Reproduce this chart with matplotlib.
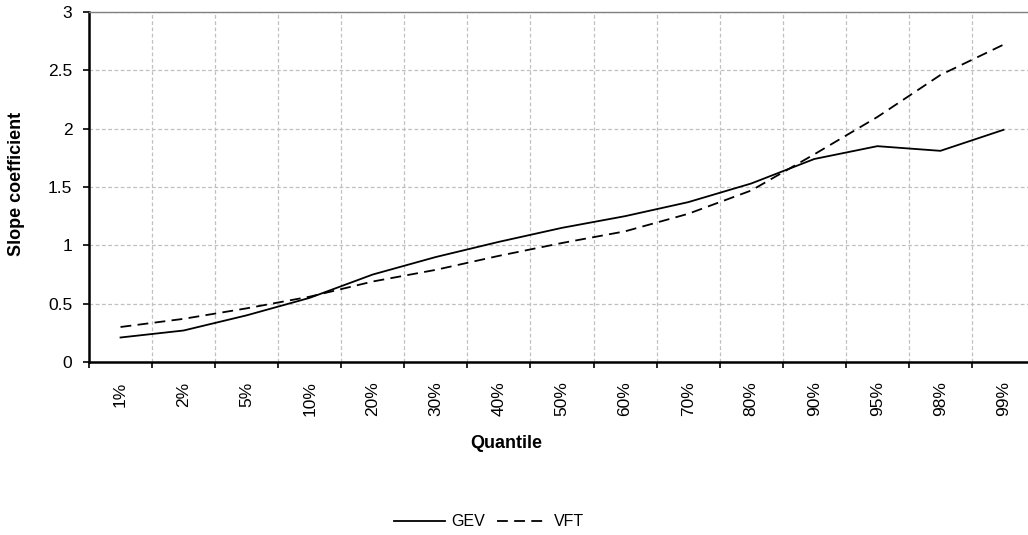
import matplotlib.pyplot as plt
import numpy as np

plt.rcParams['font.family'] = ['Liberation Sans', 'DejaVu Sans']

# ── data ─────────────────────────────────────────────────────────────────────
quantiles = ["1%", "2%", "5%", "10%", "20%", "30%", "40%", "50%",
             "60%", "70%", "80%", "90%", "95%", "98%", "99%"]
gev = [0.21, 0.27, 0.40, 0.55, 0.75, 0.90, 1.03, 1.15,
       1.25, 1.37, 1.53, 1.74, 1.85, 1.81, 1.99]
vft = [0.30, 0.37, 0.46, 0.56, 0.69, 0.79, 0.91, 1.02,
       1.12, 1.27, 1.47, 1.78, 2.10, 2.46, 2.72]

W, H = 1028, 535
fig = plt.figure(figsize=(W / 100, H / 100), dpi=100)
left, right, top, bottom = 89, 1035, 12, 362
ax = fig.add_axes([left / W, 1 - bottom / H, (right - left) / W, (bottom - top) / H])

x = np.arange(len(quantiles))
ax.plot(x, gev, color="black", lw=1.3, label="GEV")
ax.plot(x, vft, color="black", lw=1.3, dashes=(6, 3.5), label="VFT")

ax.set_xlim(-0.5, len(quantiles) - 0.5)
ax.set_ylim(0, 3)
ax.set_yticks(np.arange(0, 3.01, 0.5))
ax.set_yticklabels(["0", "0.5", "1", "1.5", "2", "2.5", "3"])

ax.set_xticks(x)
ax.set_xticklabels(quantiles, rotation=90)
ax.set_xticks(np.arange(-0.5, len(quantiles), 1.0), minor=True)
ax.tick_params(axis="x", which="major", length=0, pad=14, labelsize=12.5)
ax.tick_params(axis="x", which="minor", length=4, width=1.2, direction="out")
ax.tick_params(axis="y", length=4, width=1.2, direction="out", pad=8, labelsize=12.5)

ax.grid(True, which="minor", axis="x", color="#c0c0c0", ls=(0, (3, 2)), lw=0.9)
ax.grid(True, which="major", axis="y", color="#c0c0c0", ls=(0, (3, 2)), lw=0.9)
ax.set_axisbelow(True)

for s in ["left", "bottom"]:
    ax.spines[s].set_linewidth(1.8)
    ax.spines[s].set_color("black")
ax.spines["top"].set_color("#808080")
ax.spines["top"].set_linewidth(1.0)
ax.spines["right"].set_visible(False)

ax.set_xlabel("Quantile", fontsize=13, fontweight="bold")
ax.set_ylabel("Slope coefficient", fontsize=13, fontweight="bold")
ax.xaxis.set_label_coords((506 - left) / (right - left), -(435 - bottom) / (bottom - top))
ax.yaxis.set_label_coords(-(left - 25) / (right - left), (bottom - 184) / (bottom - top))

fig.legend(loc="center", bbox_to_anchor=(489 / W, 1 - 522 / H), ncol=2,
           frameon=False, fontsize=11.5, handlelength=3.2, columnspacing=0.75,
           handletextpad=0.4)

fig.savefig("out.png", dpi=100)
